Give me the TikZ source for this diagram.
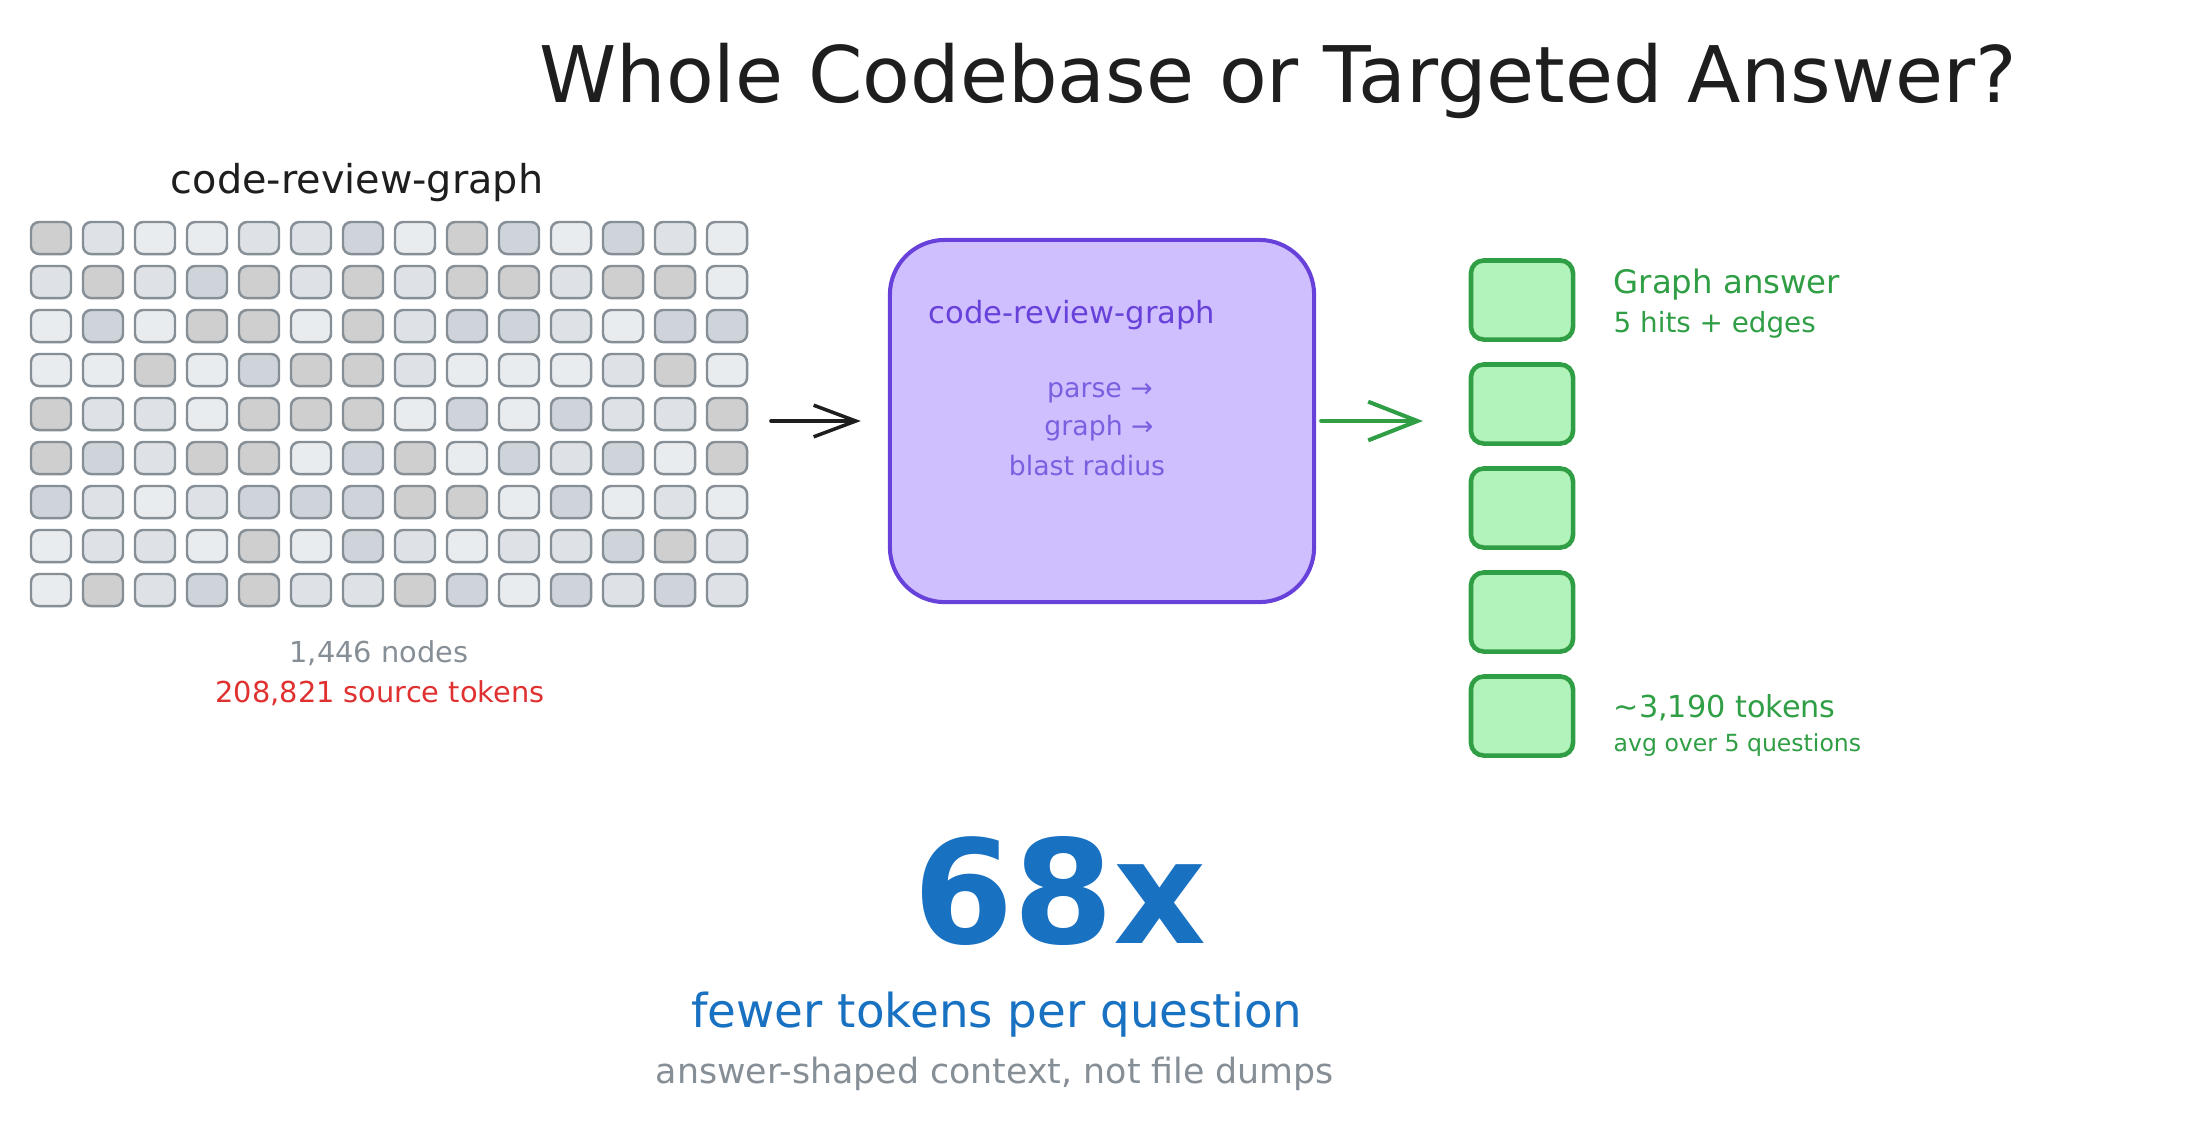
\documentclass[tikz,border=0pt]{standalone}
\usepackage{fontspec}
\setmainfont{DejaVu Sans}
\usetikzlibrary{arrows.meta,fit}
\newcommand{\fsz}[1]{\fontsize{#1pt}{#1pt}\selectfont}
\definecolor{cellG}{HTML}{CFCFCF}
\definecolor{cellB}{HTML}{CED4DA}
\definecolor{cellM}{HTML}{DEE2E6}
\definecolor{cellL}{HTML}{E9ECEF}
\definecolor{cellline}{HTML}{868E96}
\definecolor{violetfill}{HTML}{D0BFFF}
\definecolor{violetline}{HTML}{6741D9}
\definecolor{violettext}{HTML}{7A60E0}
\definecolor{greenfill}{HTML}{B2F2BB}
\definecolor{greenline}{HTML}{2F9E44}
\definecolor{bigblue}{HTML}{1971C2}
\definecolor{alertred}{HTML}{E03131}
\definecolor{ink}{HTML}{1E1E1E}

\begin{document}
\begin{tikzpicture}[x=0.01cm,y=-0.01cm,
	cell/.style={draw=cellline,line width=0.7pt,rounded corners=2.3pt,minimum width=0.4cm,minimum height=0.32cm,inner sep=0pt},
	answer/.style={draw=greenline,fill=greenfill,line width=1.3pt,rounded corners=3.6pt,minimum width=1.02cm,minimum height=0.79cm,inner sep=0pt},
	txt/.style={anchor=base,inner sep=0pt},
	flow/.style={line width=1pt,line cap=round}]
	\useasboundingbox (0,0) rectangle (2200,1129);

	\node [txt,ink] (title) at (1278,102) {\fsz{22.2}Whole Codebase or Targeted Answer?};

	% whole codebase
	\node [txt,ink] (repo) at (357,193) {\fsz{11.3}code-review-graph};
	\foreach \row [count=\j from 0] in {
		{G,M,L,L,M,M,B,L,G,B,L,B,M,L},
		{M,G,M,B,G,M,G,M,G,G,M,G,G,L},
		{L,B,L,G,G,L,G,M,B,B,M,L,B,B},
		{L,L,G,L,B,G,G,M,L,L,L,M,G,L},
		{G,M,M,L,G,G,G,L,B,L,B,M,M,G},
		{G,B,M,G,G,L,B,G,L,B,M,B,L,G},
		{B,M,L,M,B,B,B,G,G,L,B,L,M,L},
		{L,M,M,L,G,L,B,M,L,M,M,B,G,M},
		{L,G,M,B,G,M,M,G,B,L,B,M,B,M}} {
		\foreach \c [count=\i from 0] in \row {
			\node [cell,fill=cell\c] (c-\j-\i) at ({51+52*\i},{238+44*\j}) {};
		}
	}
	\node [fit=(c-0-0)(c-8-13),inner sep=0pt] (grid) {};
	\node [txt,cellline] (nodes) at (379,662) {\fsz{8.2}1,446 nodes};
	\node [txt,alertred] (tokens) at (380,702) {\fsz{8.2}208,821 source tokens};

	% the tool
	\node [draw=violetline,fill=violetfill,line width=1.15pt,rounded corners=15.6pt,minimum width=4.24cm,minimum height=3.62cm] (proc) at (1102,421) {};
	\node [txt,violetline,anchor=base west] (tool) at (928,323) {\fsz{8.7}code-review-graph};
	\node [txt,violettext] (parse) at (1100,397) {\fsz{7.6}parse →};
	\node [txt,violettext] (graph) at (1099,435) {\fsz{7.6}graph →};
	\node [txt,violettext] (blast) at (1087,475) {\fsz{7.6}blast radius};

	% targeted answer
	\foreach \k in {0,...,4}
		\node [answer] (ans-\k) at (1522,{300+104*\k}) {};
	\node [fit=(ans-0)(ans-4),inner sep=0pt] (ans) {};
	\node [txt,greenline,anchor=base west] (hits) at (1613,293) {\fsz{9.2}Graph answer};
	\node [txt,greenline,anchor=base west] (edges) at (1613,332) {\fsz{7.9}5 hits + edges};
	\node [txt,greenline,anchor=base west] (avg) at (1613,717) {\fsz{8.6}\textasciitilde 3,190 tokens};
	\node [txt,greenline,anchor=base west] (over) at (1613,751) {\fsz{6.7}avg over 5 questions};

	\draw [flow,ink,-{Straight Barb[length=12pt,width=9pt]},shorten <=0.22cm,shorten >=0.27cm] (grid.east |- proc.west) -- (proc.west);
	\draw [flow,greenline,line width=1.15pt,-{Straight Barb[length=14pt,width=11pt]},shorten <=0.05cm,shorten >=0.45cm] (proc.east) -- (proc.east -| ans.west);

	% result
	\node [txt,bigblue] (ratio) at (1060,943) {\fsz{41}\bfseries 68x};
	\node [txt,bigblue] (fewer) at (997,1027) {\fsz{13.3}fewer tokens per question};
	\node [txt,cellline] (shape) at (995,1083) {\fsz{9.9}answer-shaped context, not file dumps};
\end{tikzpicture}
\end{document}
